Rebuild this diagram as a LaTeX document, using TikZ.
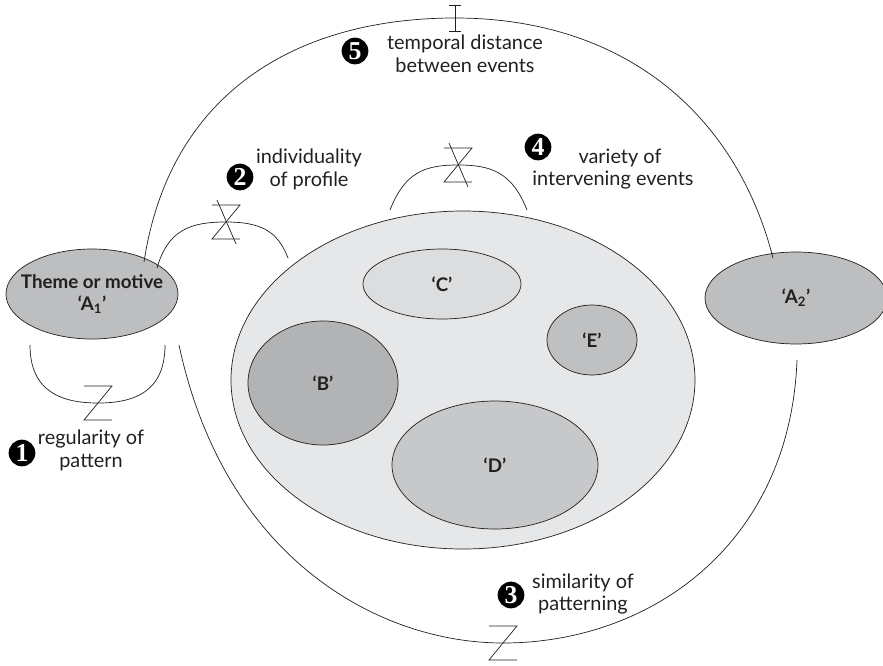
\documentclass[tikz,border=0pt]{standalone}
\usepackage{fontspec}
\setmainfont{Lato}
\newfontfamily\numfont{Liberation Serif}
\usetikzlibrary{shapes.geometric}

\definecolor{inkline}{HTML}{231F20}
\definecolor{fillA}{HTML}{BDBEC0}
\definecolor{fillOuter}{HTML}{E6E7E8}
\definecolor{fillB}{HTML}{B2B3B5}
\definecolor{fillC}{HTML}{DCDDDE}
\definecolor{fillD}{HTML}{C7C8CA}
\definecolor{fillE}{HTML}{BFC0C2}

\tikzset{
  blob/.style={ellipse, draw=inkline, line width=0.6pt, inner sep=0pt},
  blobtext/.style={font=\fontsize{16}{19}\selectfont\bfseries, text=inkline, align=center, inner sep=0pt},
  caption/.style={font=\fontsize{17}{19.5}\selectfont, text=inkline, align=center, inner sep=0pt},
  numdot/.style={circle, fill=black, text=white, minimum size=0.8cm, inner sep=0pt,
                 font=\numfont\fontsize{22}{22}\selectfont\bfseries},
  link/.style={draw=inkline, line width=0.6pt},
  pics/zmark/.style={code={
      \draw[link] (-14,-17) -- (14,-17) -- (-14,17) -- (14,17);}},
  pics/hourglass/.style={code={
      \draw[link] (-14,-17) -- (14,-17) -- (-14,17) -- (14,17);
      \draw[link] (-9,-22) -- (10,22);}},
  pics/ibeam/.style={code={
      \draw[link] (0,-13) -- (0,13);
      \draw[link] (-6,-13) -- (6,-13);
      \draw[link] (-6,13) -- (6,13);}},
}

\begin{document}
\begin{tikzpicture}[x=0.03cm, y=-0.03cm]
\useasboundingbox (0,0) rectangle (883,666);

% ---- main shapes -------------------------------------------------
\node[blob, fill=fillA, minimum width=5.16cm, minimum height=2.7cm] (a1) at (92,294) {};
\node[blobtext] (a1t) at (a1) {Theme or motive\\‘A\textsubscript{1}’};

\node[blob, fill=fillA, minimum width=5.46cm, minimum height=2.76cm] (a2) at (796,298) {};
\node[blobtext] (a2t) at (a2) {‘A\textsubscript{2}’};

\node[blob, fill=fillOuter, minimum width=13.92cm, minimum height=10.14cm] (mid) at (463,380) {};
\node[blob, fill=fillC, minimum width=4.74cm, minimum height=2.1cm] (c) at (442,284) {};
\node[blob, fill=fillE, minimum width=2.7cm, minimum height=2.1cm] (e) at (592,340) {};
\node[blob, fill=fillB, minimum width=4.5cm, minimum height=3.72cm] (b) at (323,383) {};
\node[blob, fill=fillD, minimum width=6.18cm, minimum height=3.84cm] (d) at (495,465) {};
\node[blobtext] (ct) at (c) {‘C’};
\node[blobtext] (et) at (e) {‘E’};
\node[blobtext] (bt) at (b) {‘B’};
\node[blobtext] (dt) at (d) {‘D’};

% ---- free ends of the arcs ---------------------------------------
\coordinate (r1s) at (30,345);
\coordinate (r1e) at (165,345);
\coordinate (r1m) at (98,403);

\coordinate (r2s) at (157,268);
\coordinate (r2e) at (288,258);
\coordinate (r2m) at (226,222);

\coordinate (r4s) at (390,210);
\coordinate (r4e) at (527,210);
\coordinate (r4m) at (458,165);

\coordinate (r5s) at (144,262);
\coordinate (r5e) at (773,258);
\coordinate (r5m) at (455,18);

\coordinate (r3s) at (179,345);
\coordinate (r3e) at (797,360);
\coordinate (r3m) at (503,643);

% ---- arcs --------------------------------------------------------
\draw[link] (r1s) .. controls (30,392) and (62,403) .. (r1m)
                  .. controls (134,403) and (165,392) .. (r1e);
\draw[link] (r2s) .. controls (168,230) and (190,222) .. (r2m)
                  .. controls (262,222) and (278,232) .. (r2e);
\draw[link] (r4s) .. controls (405,172) and (425,165) .. (r4m)
                  .. controls (491,165) and (512,172) .. (r4e);
\draw[link] (r5s) .. controls (170,90) and (300,18) .. (r5m)
                  .. controls (620,18) and (735,110) .. (r5e);
\draw[link] (r3s) .. controls (225,560) and (380,643) .. (r3m)
                  .. controls (650,643) and (790,545) .. (r3e);

% ---- marks on the arcs -------------------------------------------
\pic at (r1m) {zmark};
\pic at (r3m) {zmark};
\pic at (r2m) {hourglass};
\pic at (r4m) {hourglass};
\pic at (r5m) {ibeam};

% ---- numbered captions -------------------------------------------
\node[numdot] (n1) at (22,453) {1};
\node[caption] (t1) at (91,450) {regularity of\\pattern};

\node[numdot] (n2) at (240,177) {2};
\node[caption] (t2) at (309,169) {individuality\\of profile};

\node[numdot] (n3) at (511,595) {3};
\node[caption] (t3) at (583,594) {similarity of\\patterning};

\node[numdot] (n4) at (538,147) {4};
\node[caption] (t4) at (613,169) {\hspace*{12pt}variety of\\intervening events};

\node[numdot] (n5) at (355,51) {5};
\node[caption] (t5) at (465,54) {temporal distance\\between events};
\end{tikzpicture}
\end{document}
